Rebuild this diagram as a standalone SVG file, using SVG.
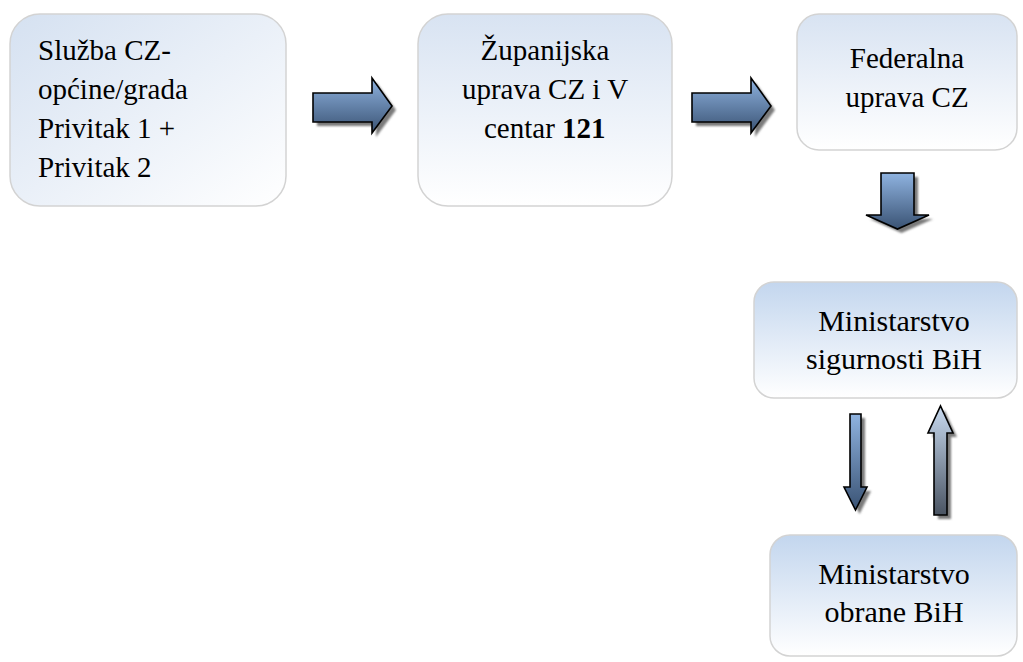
<svg xmlns="http://www.w3.org/2000/svg" width="1023" height="662" viewBox="0 0 1023 662">
<defs>
<linearGradient id="gDiag" x1="0" y1="0" x2="1" y2="1">
<stop offset="0" stop-color="#d5e1f1"/>
<stop offset="1" stop-color="#ffffff"/>
</linearGradient>
<linearGradient id="gV1" x1="0" y1="0" x2="0" y2="1">
<stop offset="0" stop-color="#d8e3f2"/>
<stop offset="1" stop-color="#ffffff"/>
</linearGradient>
<linearGradient id="gV2" x1="0" y1="0" x2="0" y2="1">
<stop offset="0" stop-color="#c3d6ee"/>
<stop offset="1" stop-color="#ffffff"/>
</linearGradient>
<linearGradient id="gArrow" x1="0" y1="0" x2="0" y2="1">
<stop offset="0" stop-color="#8fb3e0"/>
<stop offset="1" stop-color="#3a5374"/>
</linearGradient>
<linearGradient id="gUp" x1="0" y1="0" x2="0" y2="1">
<stop offset="0" stop-color="#c8daf0"/>
<stop offset="1" stop-color="#4a5462"/>
</linearGradient>
<filter id="blur" x="-20%" y="-20%" width="140%" height="140%">
<feGaussianBlur stdDeviation="1"/>
</filter>
</defs>
<style>
.box{stroke:#d3d3d3;stroke-width:1.5}
.arr{stroke:#000;stroke-width:1.6;stroke-linejoin:miter}
.sh{fill:#7a7a7a;filter:url(#blur)}
</style>
<rect width="1023" height="662" fill="#ffffff"/>
<g id="n1" font-family="Liberation Serif, Times New Roman, serif" font-size="29">
<rect class="box" x="10" y="14" width="276" height="192" rx="30" fill="url(#gDiag)"/>
<text x="38" y="60">Slu&#382;ba CZ-</text>
<text x="38" y="99">op&#263;ine/grada</text>
<text x="38" y="138">Privitak 1 +</text>
<text x="38" y="177">Privitak 2</text>
</g>
<g id="n2" font-family="Liberation Serif, Times New Roman, serif" font-size="29">
<rect class="box" x="418" y="14" width="254" height="192" rx="30" fill="url(#gV1)"/>
<text x="545" y="60" text-anchor="middle">&#381;upanijska</text>
<text x="545" y="99" text-anchor="middle">uprava CZ i V</text>
<text x="484" y="138">centar</text>
<text x="562" y="138" font-weight="bold">121</text>
</g>
<g id="n3" font-family="Liberation Serif, Times New Roman, serif" font-size="29">
<rect class="box" x="797" y="14" width="220" height="136" rx="22" fill="url(#gV1)"/>
<text x="907" y="68" text-anchor="middle">Federalna</text>
<text x="907" y="107" text-anchor="middle">uprava CZ</text>
</g>
<g id="n4" font-family="Liberation Serif, Times New Roman, serif" font-size="30">
<rect class="box" x="754" y="282" width="263" height="116" rx="20" fill="url(#gV2)"/>
<text x="894" y="331" text-anchor="middle">Ministarstvo</text>
<text x="894" y="369" text-anchor="middle">sigurnosti BiH</text>
</g>
<g id="n5" font-family="Liberation Serif, Times New Roman, serif" font-size="30">
<rect class="box" x="770" y="535" width="247" height="121" rx="20" fill="url(#gV2)"/>
<text x="894" y="584" text-anchor="middle">Ministarstvo</text>
<text x="894" y="622" text-anchor="middle">obrane BiH</text>
</g>
<g id="connectors">
<g transform="translate(4,4)">
<path class="sh" d="M313,93 H372 V78 L392,106 L372,133 V122 H313 Z"/>
<path class="sh" d="M692,93 H751 V78 L771,106 L751,133 V122 H692 Z"/>
<path class="sh" d="M881,173 H914 V215 H929 L897.5,229 L866,215 H881 Z"/>
<path class="sh" d="M850,414 H861 V487 H867 L855.5,510 L844,487 H850 Z"/>
<path class="sh" d="M934,515 V433 H928 L940.5,406 L953,433 H947 V515 Z"/>
</g>
<path class="arr" fill="url(#gArrow)" d="M313,93 H372 V78 L392,106 L372,133 V122 H313 Z"/>
<path class="arr" fill="url(#gArrow)" d="M692,93 H751 V78 L771,106 L751,133 V122 H692 Z"/>
<path class="arr" fill="url(#gArrow)" d="M881,173 H914 V215 H929 L897.5,229 L866,215 H881 Z"/>
<path class="arr" fill="url(#gArrow)" d="M850,414 H861 V487 H867 L855.5,510 L844,487 H850 Z"/>
<path class="arr" fill="url(#gUp)" d="M934,515 V433 H928 L940.5,406 L953,433 H947 V515 Z"/>
</g>
</svg>
